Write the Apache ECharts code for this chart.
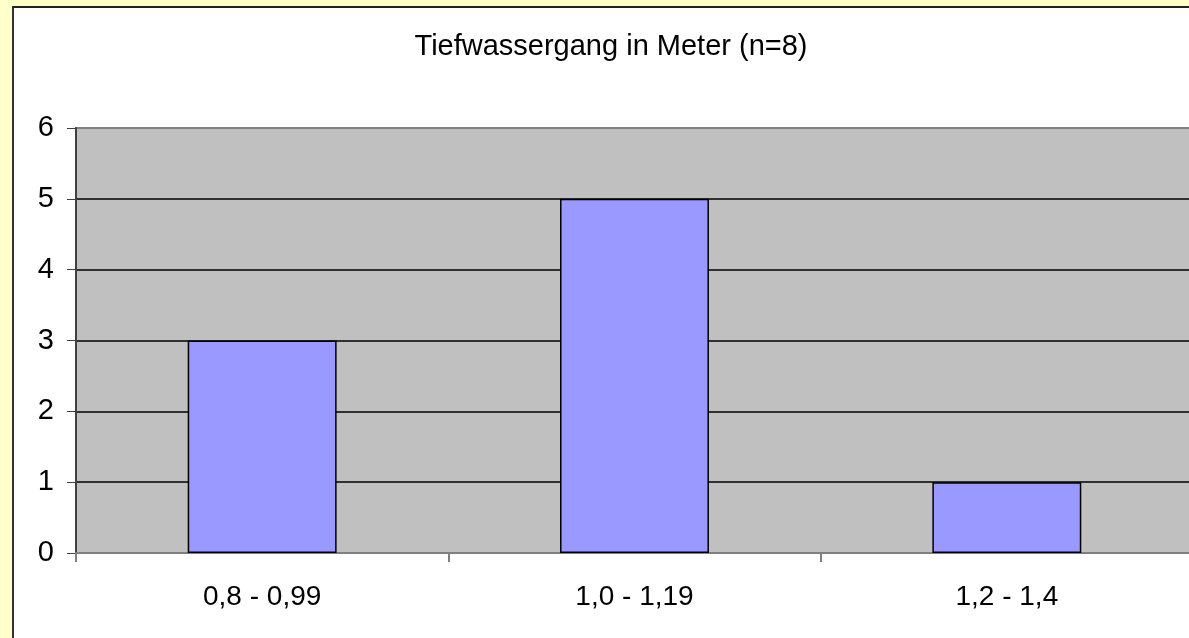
<!DOCTYPE html>
<html>
<head>
<meta charset="utf-8">
<script src="https://cdn.jsdelivr.net/npm/echarts@6/dist/echarts.min.js"></script>
<style>
	html, body { margin: 0; padding: 0; background: #FFFFCC; overflow: hidden; }
	#frame {
		position: absolute; left: 12px; top: 6px; width: 1200px; height: 700px;
		background: #fff; border-left: 2px solid #333; border-top: 2px solid #222;
	}
	#chart { position: absolute; left: 0; top: 0; width: 1193px; height: 638px; }
</style>
</head>
<body>
<div id="frame"></div>
<div id="chart"></div>
<script>
const categories = ['0,8 - 0,99', '1,0 - 1,19', '1,2 - 1,4']
const counts = [3, 5, 1]
const yTicks = { min: 0, max: 6, step: 1 }

const font = 'Liberation Sans, Arial, sans-serif'

const chart = echarts.init(document.getElementById('chart'))
chart.setOption({
	backgroundColor: 'transparent',
	animation: false,
	title: {
		text: 'Tiefwassergang in Meter (n=8)',
		left: 606,
		textAlign: 'center',
		top: 27,
		textStyle: { fontFamily: font, fontSize: 29, fontWeight: 'normal', color: '#000' }
	},
	grid: {
		left: 76, top: 128, right: 0, bottom: 85,
		show: true,
		backgroundColor: '#C0C0C0',
		borderColor: '#808080',
		borderWidth: 2
	},
	xAxis: {
		type: 'category',
		data: categories,
		axisLine: { lineStyle: { color: '#808080', width: 2 } },
		axisTick: { show: true, length: 9, lineStyle: { color: '#808080', width: 2 } },
		axisLabel: { margin: 30, fontFamily: font, fontSize: 28, color: '#000' }
	},
	yAxis: {
		type: 'value',
		min: yTicks.min,
		max: yTicks.max,
		interval: yTicks.step,
		axisLine: { show: true, lineStyle: { color: '#404040', width: 2 } },
		axisTick: { show: true, length: 9, lineStyle: { color: '#404040', width: 1 } },
		axisLabel: { margin: 22, fontFamily: font, fontSize: 29, color: '#000' },
		splitLine: {
			show: true,
			lineStyle: { color: ['#808080', '#000', '#000', '#000', '#000', '#000', '#808080'], width: 1.5 }
		}
	},
	series: [{
		type: 'bar',
		data: counts,
		barWidth: '40%',
		itemStyle: { color: '#9999FF', borderColor: '#000', borderWidth: 1.5 }
	}]
})
</script>
</body>
</html>
